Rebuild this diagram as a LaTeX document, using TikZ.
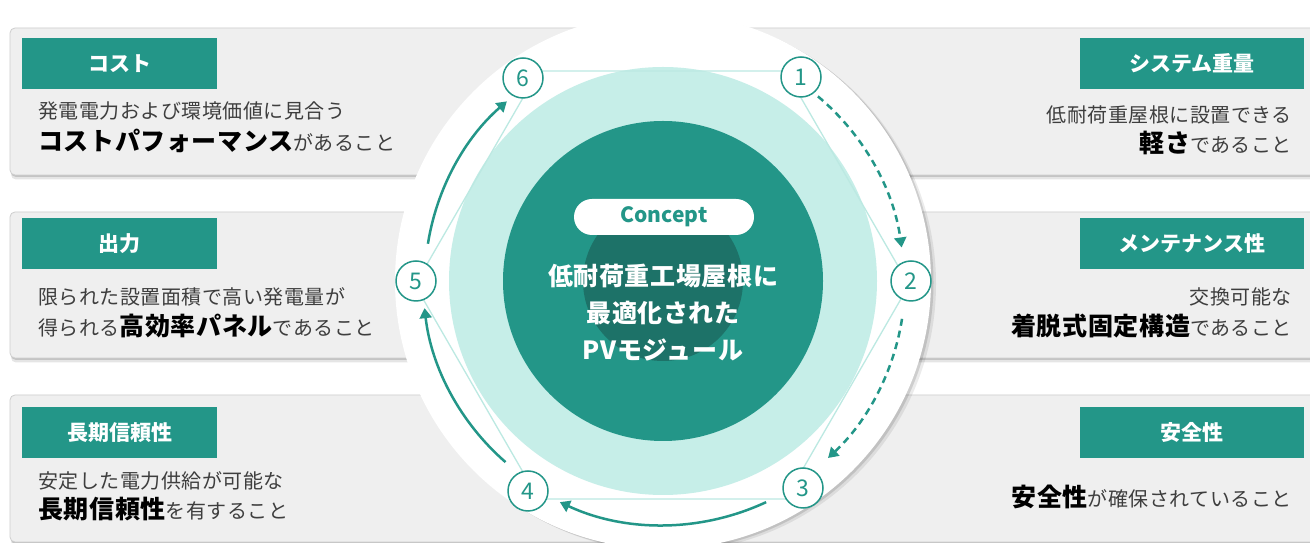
\documentclass[tikz,border=0pt]{standalone}
\usepackage{fontspec}
\newfontfamily\jp{Noto Sans CJK JP}
\newfontfamily\jpls[LetterSpace=2.5]{Noto Sans CJK JP}
\usetikzlibrary{calc,arrows.meta}
\definecolor{tealA}{RGB}{35,150,136}
\definecolor{tealD}{RGB}{29,114,104}
\definecolor{tealL}{RGB}{198,238,232}
\definecolor{hexC}{RGB}{188,233,226}
\definecolor{bandG}{RGB}{239,239,239}
\definecolor{bandL}{RGB}{206,206,206}
\definecolor{txtG}{RGB}{62,62,62}
\newcommand\emphb[1]{{\fontsize{25}{28}\selectfont\bfseries\color{black}#1}}
\begin{document}
\begin{tikzpicture}[x=1pt,y=1pt,
  band/.style={fill=bandG,draw=bandL,line width=0.8pt,rounded corners=5pt},
  headbox/.style={fill=tealA,minimum width=195pt,minimum height=51pt,inner sep=0pt,text=white,font=\jp\bfseries\fontsize{21}{25}\selectfont},
  desc/.style={inner sep=0pt,text=txtG,font=\jpls\fontsize{20}{24}\selectfont},
  numc/.style={circle,draw=tealA,line width=1.5pt,fill=white,minimum size=40pt,inner sep=0pt,text=tealA,font=\jp\fontsize{23}{26}\selectfont},
  arr/.style={draw=tealA,line width=2.5pt,-{Triangle[length=10pt,width=12pt]}},
  dsh/.style={dash pattern=on 7pt off 5pt},
  hexline/.style={draw=hexC,line width=1.3pt},
  pill/.style={fill=white,rounded corners=18pt,minimum width=180pt,minimum height=36pt,inner sep=0pt,text=tealA,font=\jp\bfseries\fontsize{21}{24}\selectfont},
  maintext/.style={align=center,text=white,inner sep=0pt,font=\jpls\bfseries\fontsize{25}{37}\selectfont}
]
\fill[white] (0,0) rectangle (1310,543);
\useasboundingbox (0,0) rectangle (1310,543);

% bands
\foreach \yb/\yt in {368/515,185/331,1/148}{
  \fill[black,opacity=0.10,rounded corners=5pt] (11,\yb-4.5) rectangle (1322,\yt-4.5);
  \fill[black,opacity=0.14,rounded corners=5pt] (11,\yb-2) rectangle (1322,\yt-2);
  \path[band] (10,\yb) rectangle (1320,\yt);
}

% circles
\coordinate (C) at (663,262);
\fill[black,opacity=0.08] ($(C)+(5,-3)$) circle[radius=268];
\fill[black,opacity=0.12] ($(C)+(2.5,-1.5)$) circle[radius=268];
\fill[white] (C) circle[radius=268];
\fill[tealL] (C) circle[radius=214];
\draw[hexline] (415,258)--(538.5,472)--(785.5,472)--(909,258)--(785.5,44)--(538.5,44)--cycle;
\fill[tealA] (C) circle[radius=160];
\fill[tealD] (C) circle[radius=80];

% arrows
\draw[arr,dsh] ($(C)+(50:241)$) arc[start angle=50,end angle=8,radius=241];
\draw[arr,dsh] ($(C)+(-9:242)$) arc[start angle=-9,end angle=-47,radius=242];
\draw[arr] ($(C)+(-65:244)$) arc[start angle=-65,end angle=-115,radius=244];
\draw[arr] ($(C)+(-131:240)$) arc[start angle=-131,end angle=-173.5,radius=240];
\draw[arr] ($(C)+(171:238)$) arc[start angle=171,end angle=131,radius=238];

% numbered circles
\node[numc] (n1) at (801,466) {1};
\node[numc] (n2) at (911,262) {2};
\node[numc] (n3) at (803,55) {3};
\node[numc] (n4) at (528,52) {4};
\node[numc] (n5) at (416,262) {5};
\node[numc] (n6) at (523,465) {6};

% concept
\node[pill] (concept) at (664,326) {Concept};
\node[maintext] (title) at (663,230) {低耐荷重工場屋根に\\最適化された\\PVモジュール};

% left headings
\node[headbox] (hcost) at (119.5,479.5) {コスト};
\node[headbox] (hout) at (119.5,299.5) {出力};
\node[headbox] (hlong) at (119.5,110.5) {長期信頼性};
% right headings
\node[headbox,minimum width=224pt] (hweight) at (1192,479.5) {システム重量};
\node[headbox,minimum width=224pt] (hmaint) at (1192,299.5) {メンテナンス性};
\node[headbox,minimum width=224pt] (hsafe) at (1192,110.5) {安全性};

% left descriptions
\node[desc,anchor=west] (dc1) at (38,432) {発電電力および環境価値に見合う};
\node[desc,anchor=west] (dc2) at (38,402) {\emphb{コストパフォーマンス}があること};
\node[desc,anchor=west] (do1) at (38,246) {限られた設置面積で高い発電量が};
\node[desc,anchor=west] (do2) at (38,217) {得られる\emphb{高効率パネル}であること};
\node[desc,anchor=west] (dl1) at (38,62) {安定した電力供給が可能な};
\node[desc,anchor=west] (dl2) at (38,34) {\emphb{長期信頼性}を有すること};
% right descriptions
\node[desc,anchor=east] (dw1) at (1292,428) {低耐荷重屋根に設置できる};
\node[desc,anchor=east] (dw2) at (1292,400) {\emphb{軽さ}であること};
\node[desc,anchor=east] (dm1) at (1292,246) {交換可能な};
\node[desc,anchor=east] (dm2) at (1292,217) {\emphb{着脱式固定構造}であること};
\node[desc,anchor=east] (ds1) at (1292,46) {\emphb{安全性}が確保されていること};
\end{tikzpicture}
\end{document}
